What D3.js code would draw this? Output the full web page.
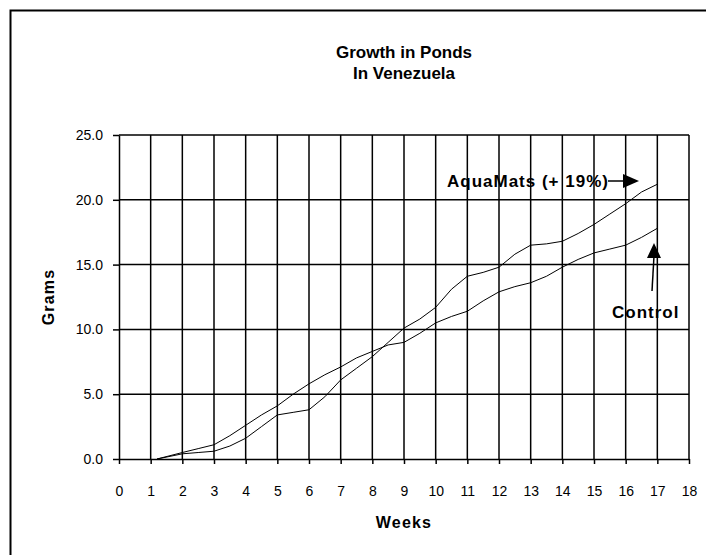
<!DOCTYPE html>
<head>
  <title>Growth in Ponds In Venezuela</title>
  <script src="https://d3js.org/d3.v7.min.js"></script>
  <style>
    body { margin: 0; background: #fff; }
    text { font-family: "Liberation Sans", Arial, sans-serif; fill: #000; }
    .axis path, .axis line { stroke: #000; stroke-width: 1.5; }
    .axis text { font-size: 14px; }
    .grid line { stroke: #000; stroke-width: 1.5; }
    .series { fill: none; stroke: #000; stroke-width: 1; }
    .lbl { font-weight: bold; font-size: 16px; letter-spacing: 1.2px; }
    .note { font-weight: bold; font-size: 17px; letter-spacing: 1px; }
  </style>
</head>
<body>
  <svg width="706" height="555"></svg>
  <script>
    // weeks (x) and grams (y)
    const aquaWeeks = [1.2, 2, 2.5, 3, 3.5, 4, 4.5, 5, 5.5, 6, 6.5, 7, 7.5, 8, 8.5, 9, 9.5, 10, 10.5, 11, 11.5, 12, 12.5, 13, 13.5, 14, 14.5, 15, 15.5, 16, 16.5, 17];
    const aquaGrams = [0.0, 0.4, 0.5, 0.6, 1.0, 1.6, 2.5, 3.4, 3.6, 3.8, 4.8, 6.1, 7.0, 7.9, 9.0, 10.1, 10.8, 11.7, 13.1, 14.1, 14.4, 14.8, 15.8, 16.5, 16.6, 16.8, 17.4, 18.1, 18.9, 19.7, 20.6, 21.2];
    const ctrlWeeks = [1.2, 2, 2.5, 3, 3.5, 4, 4.5, 5, 5.5, 6, 6.5, 7, 7.5, 8, 8.5, 9, 9.5, 10, 10.5, 11, 11.5, 12, 12.5, 13, 13.5, 14, 14.5, 15, 15.5, 16, 16.5, 17];
    const ctrlGrams = [0.0, 0.5, 0.8, 1.1, 1.8, 2.6, 3.4, 4.1, 5.0, 5.8, 6.5, 7.1, 7.8, 8.3, 8.8, 9.0, 9.7, 10.5, 11.0, 11.4, 12.2, 12.9, 13.3, 13.6, 14.1, 14.8, 15.4, 15.9, 16.2, 16.5, 17.1, 17.8];
    const xTicks = d3.range(0, 19);
    const yTicks = [0, 5, 10, 15, 20, 25];

    const svg = d3.select("svg");
    const plotLeft = 119, plotRight = 689, plotTop = 135, plotBottom = 459;
    const x = d3.scaleLinear().domain([0, 18]).range([plotLeft, plotRight]);
    const y = d3.scaleLinear().domain([0, 25]).range([plotBottom, plotTop]);

    // outer frame (runs off the right and bottom)
    svg.append("rect")
      .attr("x", 10.5).attr("y", 10.5)
      .attr("width", 900).attr("height", 900)
      .attr("fill", "none").attr("stroke", "#000").attr("stroke-width", 2);

    // title
    svg.append("text").attr("x", 404).attr("y", 58)
      .attr("text-anchor", "middle").style("font-size", "17px").style("font-weight", "bold")
      .text("Growth in Ponds");
    svg.append("text").attr("x", 404).attr("y", 79)
      .attr("text-anchor", "middle").style("font-size", "17px").style("font-weight", "bold")
      .text("In Venezuela");

    // grid
    const grid = svg.append("g").attr("class", "grid");
    grid.selectAll(".v").data(xTicks.filter(d => d > 0)).enter().append("line")
      .attr("x1", d => x(d)).attr("x2", d => x(d))
      .attr("y1", plotTop).attr("y2", plotBottom);
    grid.selectAll(".h").data(yTicks.filter(d => d > 0)).enter().append("line")
      .attr("x1", plotLeft).attr("x2", plotRight)
      .attr("y1", d => y(d)).attr("y2", d => y(d));

    // axes
    svg.append("g").attr("class", "axis")
      .attr("transform", `translate(0,${plotBottom})`)
      .call(d3.axisBottom(x).tickValues(xTicks).tickFormat(d3.format("d")).tickSize(5).tickSizeOuter(0).tickPadding(22));
    svg.append("g").attr("class", "axis")
      .attr("transform", `translate(${plotLeft},0)`)
      .call(d3.axisLeft(y).tickValues(yTicks).tickFormat(d3.format(".1f")).tickSize(6).tickSizeOuter(0).tickPadding(10));

    svg.append("text").attr("class", "lbl").attr("x", 404).attr("y", 528)
      .attr("text-anchor", "middle")
      .text("Weeks");
    svg.append("text").attr("class", "lbl").attr("transform", "translate(54,297) rotate(-90)")
      .attr("text-anchor", "middle")
      .text("Grams");

    // series
    const line = d3.line().x(d => x(d[0])).y(d => y(d[1]));
    svg.append("path").attr("class", "series")
      .attr("d", line(d3.zip(aquaWeeks, aquaGrams)));
    svg.append("path").attr("class", "series")
      .attr("d", line(d3.zip(ctrlWeeks, ctrlGrams)));

    // annotations
    svg.append("text").attr("class", "note").attr("x", 447).attr("y", 187)
      .text("AquaMats (+ 19%)");
    svg.append("line").attr("x1", 608).attr("x2", 626).attr("y1", 181).attr("y2", 181)
      .attr("stroke", "#000").attr("stroke-width", 1.5);
    svg.append("path").attr("d", "M623,174 L639,181 L623,188 Z").attr("fill", "#000");

    svg.append("text").attr("class", "note").attr("x", 612).attr("y", 318)
      .text("Control");
    svg.append("line").attr("x1", 652).attr("x2", 654).attr("y1", 291).attr("y2", 256)
      .attr("stroke", "#000").attr("stroke-width", 1.5);
    svg.append("path").attr("d", "M647,258 L654,243 L661,258 Z").attr("fill", "#000");
  </script>
</body>
